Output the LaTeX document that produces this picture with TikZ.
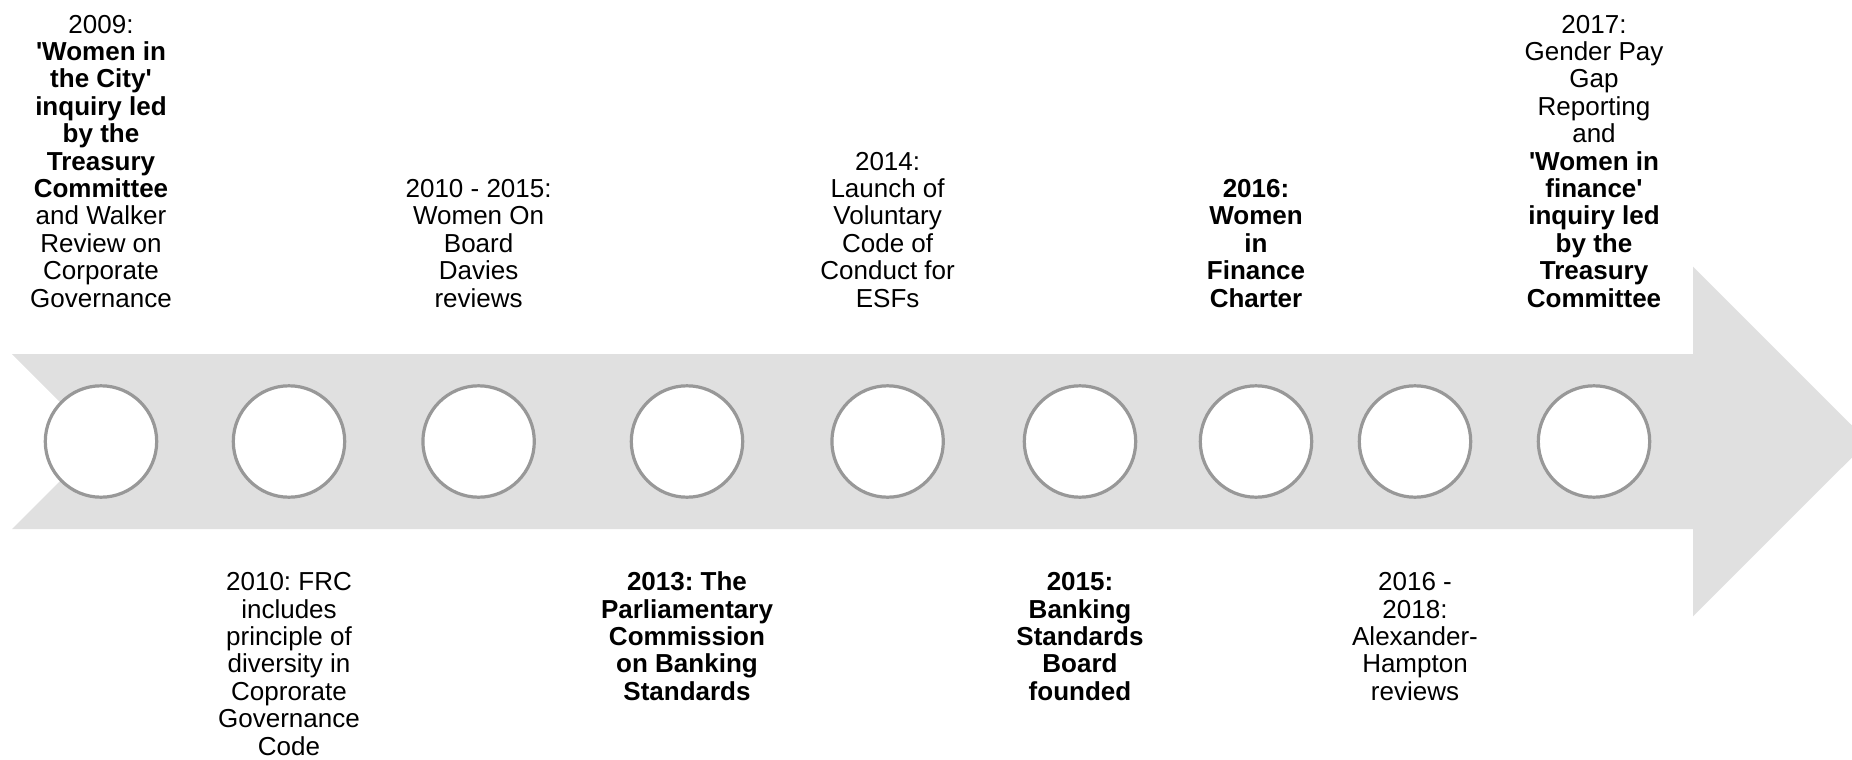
\documentclass[tikz,border=0pt]{standalone}
\usepackage{fontspec}
\setmainfont{Liberation Sans}
\frenchspacing
\definecolor{bandgray}{RGB}{224,224,224}
\definecolor{ringgray}{RGB}{152,152,152}
\newcommand{\sq}{\textquotesingle}
\newcommand{\upcol}[1]{{\setlength{\tabcolsep}{0pt}\begin{tabular}[b]{c}#1\end{tabular}}}
\newcommand{\downcol}[1]{{\setlength{\tabcolsep}{0pt}\begin{tabular}[t]{c}#1\end{tabular}}}
\tikzset{
  milestone/.style={circle, draw=ringgray, fill=white, line width=3.2pt,
                    inner sep=0pt, minimum size=111.4pt},
  label text/.style={inner sep=0pt, anchor=base, text=black,
                     font=\fontsize{26}{27.4}\selectfont},
}
\begin{document}
\begin{tikzpicture}[x=1pt, y=-1pt]
  \useasboundingbox (0,0) rectangle (1852,760);
  \clip (0,0) rectangle (1852,760);

  % notched timeline arrow
  \fill[bandgray] (12,354) -- (1693,354) -- (1693,266.7) -- (1868,441.5)
    -- (1693,616.3) -- (1693,529) -- (12,529) -- (99.5,441.5) -- cycle;

  % milestone rings
  \node[milestone] (c1) at (101,441.5) {};
  \node[milestone] (c2) at (289,441.5) {};
  \node[milestone] (c3) at (478.6,441.5) {};
  \node[milestone] (c4) at (687,441.5) {};
  \node[milestone] (c5) at (887.6,441.5) {};
  \node[milestone] (c6) at (1080,441.5) {};
  \node[milestone] (c7) at (1256,441.5) {};
  \node[milestone] (c8) at (1415,441.5) {};
  \node[milestone] (c9) at (1594,441.5) {};

  % captions above the band (last line on a common baseline)
  \node[label text] (t1) at (101,307) {\upcol{2009:\\
    \textbf{\sq Women in}\\ \textbf{the City\sq}\\ \textbf{inquiry led}\\
    \textbf{by the}\\ \textbf{Treasury}\\ \textbf{Committee}\\
    and Walker\\ Review on\\ Corporate\\ Governance}};
  \node[label text] (t3) at (478.6,307) {\upcol{2010 - 2015:\\ Women On\\
    Board\\ Davies\\ reviews}};
  \node[label text] (t5) at (887.6,307) {\upcol{2014:\\ Launch of\\
    Voluntary\\ Code of\\ Conduct for\\ ESFs}};
  \node[label text] (t7) at (1256,307) {\upcol{\textbf{2016:}\\
    \textbf{Women}\\ \textbf{in}\\ \textbf{Finance}\\ \textbf{Charter}}};
  \node[label text] (t9) at (1594,307) {\upcol{2017:\\ Gender Pay\\ Gap\\
    Reporting\\ and\\ \textbf{\sq Women in}\\ \textbf{finance\sq}\\
    \textbf{inquiry led}\\ \textbf{by the}\\ \textbf{Treasury}\\
    \textbf{Committee}}};

  % captions below the band (first line on a common baseline)
  \node[label text] (t2) at (289,590.7) {\downcol{2010: FRC\\ includes\\
    principle of\\ diversity in\\ Coprorate\\ Governance\\ Code}};
  \node[label text] (t4) at (687,590.7) {\downcol{\textbf{2013: The}\\
    \textbf{Parliamentary}\\ \textbf{Commission}\\ \textbf{on Banking}\\
    \textbf{Standards}}};
  \node[label text] (t6) at (1080,590.7) {\downcol{\textbf{2015:}\\
    \textbf{Banking}\\ \textbf{Standards}\\ \textbf{Board}\\
    \textbf{founded}}};
  \node[label text] (t8) at (1415,590.7) {\downcol{2016 -\\ 2018:\\
    Alexander-\\ Hampton\\ reviews}};
\end{tikzpicture}
\end{document}
